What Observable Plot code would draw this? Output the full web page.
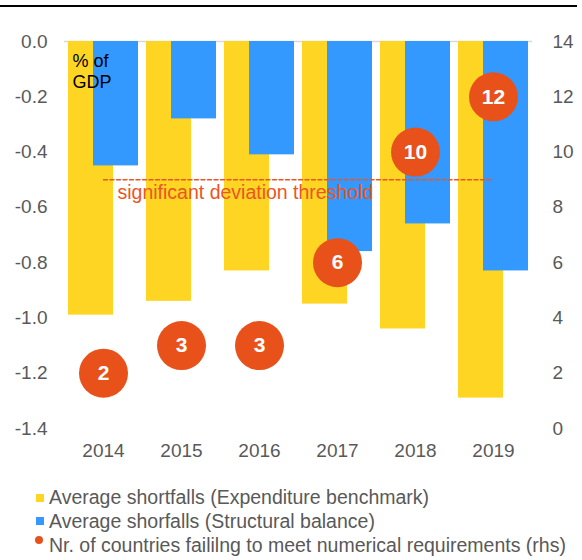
<!DOCTYPE html>
<html><head><meta charset="utf-8">
<script src="https://cdn.jsdelivr.net/npm/d3@7"></script>
<script src="https://cdn.jsdelivr.net/npm/@observablehq/plot@0.6"></script>
<style>
body{margin:0;background:#fff;font-family:"Liberation Sans",Arial,sans-serif;}
#wrap{position:relative;width:582px;height:560px;overflow:hidden;}
#chart{position:absolute;left:0;top:0;}
#topline{position:absolute;left:0;top:5px;width:577px;height:2px;background:#000;}
.leg{position:absolute;left:49px;font-size:19.5px;line-height:19.5px;color:#595959;white-space:nowrap;}
.sw{position:absolute;}
</style></head><body>
<div id="wrap"><div id="chart"></div><div id="topline"></div><div id="legend"></div></div>
<script>
const years = ["2014","2015","2016","2017","2018","2019"];
const expenditureBenchmark = [-0.99,-0.94,-0.83,-0.95,-1.04,-1.29];
const structuralBalance = [-0.45,-0.28,-0.41,-0.76,-0.66,-0.83];
const countriesFailing = [2,3,3,6,10,12];
const thresholdValue = -0.5;
const thresholdLabel = "significant deviation threshold";
const unitLabel = "% of\nGDP";
const leftTicks = [0,-0.2,-0.4,-0.6,-0.8,-1.0,-1.2,-1.4];
const rightTicks = [0,2,4,6,8,10,12,14];
const legendLabels = [
  "Average shortfalls (Expenditure benchmark)",
  "Average shorfalls (Structural balance)",
  "Nr. of countries faililng to meet numerical requirements (rhs)"
];
const colYellow = "#FED523", colBlue = "#3399FF", colOrange = "#E8521A";

// map right-hand scale (0..14) onto left-hand scale (-1.4..0)
const rhsToLhs = v => (v - 14) / 10;
const lhsToRhs = v => Math.round(v * 10 + 14);

const rows = years.map((y, i) => ({
  year: y, exp: expenditureBenchmark[i], sb: structuralBalance[i],
  n: countriesFailing[i], nPos: rhsToLhs(countriesFailing[i])
}));
const thr = [{x: years[0], y: thresholdValue}, {x: years[years.length-1], y: thresholdValue}];

const chart = Plot.plot({
  width: 582, height: 470,
  marginTop: 41, marginBottom: 42, marginLeft: 64, marginRight: 50,
  style: {fontFamily: "'Liberation Sans', Arial, sans-serif", background: "transparent"},
  x: {type: "band", domain: years, padding: 0, axis: null},
  y: {domain: [-1.4, 0], axis: null},
  marks: [
    Plot.ruleY([0], {stroke: "#D9D9D9", strokeWidth: 1.5}),
    Plot.barY(rows, {x: "year", y: "exp", fill: colYellow, insetLeft: 4, insetRight: 29}),
    Plot.barY(rows, {x: "year", y: "sb", fill: colBlue, insetLeft: 29, insetRight: 4}),
    Plot.line(thr, {x: "x", y: "y", stroke: "#EC5424", strokeWidth: 1.4, strokeDasharray: "4,2.5"}),
    Plot.text([thr[0]], {x: "x", y: "y", text: () => thresholdLabel, textAnchor: "start", lineAnchor: "top",
      dx: 14, dy: 5, fill: "#EC5424", fontSize: 19.5}),
    Plot.text([{x: years[0], y: 0}], {x: "x", y: "y", text: () => unitLabel, textAnchor: "start", lineAnchor: "top",
      dx: -31, dy: 10, fill: "#000", fontSize: 18, lineHeight: 1.2}),
    Plot.dot(rows, {x: "year", y: "nPos", r: 24.5, fill: colOrange, stroke: "none"}),
    Plot.text(rows, {x: "year", y: "nPos", text: d => String(d.n), fill: "#fff", fontSize: 21, fontWeight: "bold"}),
    Plot.axisY(leftTicks, {anchor: "left", tickSize: 0, tickPadding: 17, tickFormat: d => d.toFixed(1),
      fontSize: 19, color: "#595959", label: null}),
    Plot.axisY(rightTicks.map(rhsToLhs), {anchor: "right", tickSize: 0, tickPadding: 20, tickFormat: d => String(lhsToRhs(d)),
      fontSize: 19, color: "#595959", label: null}),
    Plot.axisX(years, {anchor: "bottom", tickSize: 0, tickPadding: 15, fontSize: 19, color: "#595959", label: null})
  ]
});
document.getElementById("chart").appendChild(chart);

const leg = document.getElementById("legend");
const tops = [488, 511.5, 535.5];
const markers = [
  {type: "sq", color: colYellow, left: 36, top: 494},
  {type: "sq", color: colBlue, left: 36, top: 517},
  {type: "dot", color: colOrange, cx: 39, cy: 540}
];
legendLabels.forEach((lab, i) => {
  const m = markers[i];
  const s = document.createElement("div");
  s.className = "sw";
  if (m.type === "sq") {
    Object.assign(s.style, {left: m.left + "px", top: m.top + "px", width: "8px", height: "8px", background: m.color});
  } else {
    Object.assign(s.style, {left: (m.cx - 4) + "px", top: (m.cy - 4) + "px", width: "8px", height: "8px", borderRadius: "50%", background: m.color});
  }
  leg.appendChild(s);
  const t = document.createElement("div");
  t.className = "leg";
  t.style.top = tops[i] + "px";
  t.textContent = lab;
  leg.appendChild(t);
});
</script>
</body></html>
